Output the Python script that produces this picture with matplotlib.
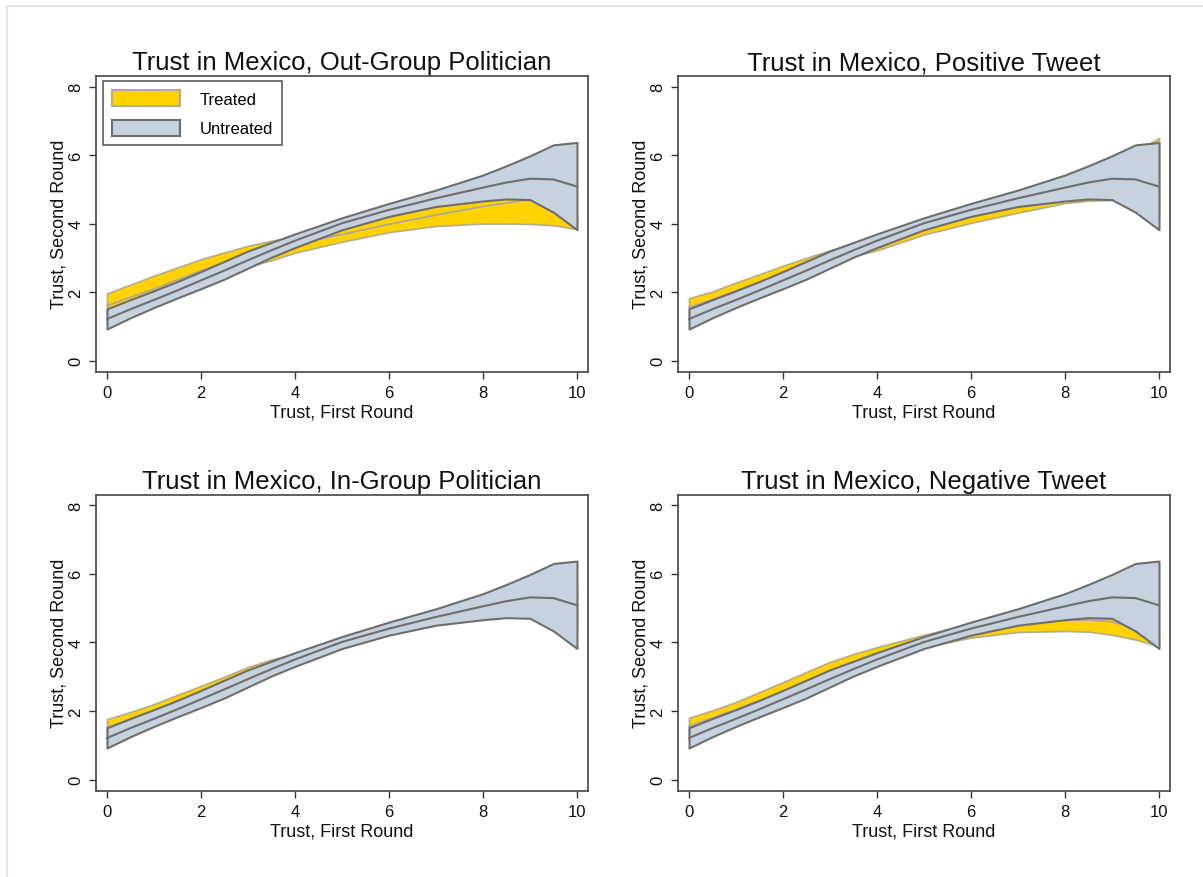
import matplotlib
matplotlib.use("Agg")
import matplotlib.pyplot as plt
from matplotlib.patches import Patch
from matplotlib.lines import Line2D

plt.rcParams['font.family'] = ['Liberation Sans', 'DejaVu Sans']

# x grid (Trust, First Round)
x = [0, 0.5, 1, 1.5, 2, 2.5, 3, 3.5, 4, 5, 6, 7, 8, 8.5, 9, 9.5, 10]

# Untreated (same in all panels)
untr_upper = [1.51, 1.78, 2.04, 2.31, 2.60, 2.90, 3.20, 3.45, 3.70, 4.17, 4.59, 4.98, 5.42, 5.69, 5.98, 6.30, 6.37]
untr_mean  = [1.21, 1.50, 1.77, 2.05, 2.34, 2.63, 2.93, 3.22, 3.50, 4.01, 4.40, 4.74, 5.05, 5.20, 5.31, 5.29, 5.08]
untr_lower = [0.92, 1.25, 1.55, 1.83, 2.10, 2.38, 2.70, 3.02, 3.30, 3.82, 4.21, 4.50, 4.66, 4.72, 4.70, 4.33, 3.82]

# Treated, per panel
titles = ["Trust in Mexico, Out-Group Politician", "Trust in Mexico, Positive Tweet",
          "Trust in Mexico, In-Group Politician", "Trust in Mexico, Negative Tweet"]

out_upper = [1.96, 2.22, 2.48, 2.72, 2.96, 3.16, 3.35, 3.50, 3.62, 4.00, 4.35, 4.65, 4.85, 4.90, 4.90, 4.60, 4.20]
out_mean  = [1.60, 1.85, 2.09, 2.36, 2.62, 2.86, 3.08, 3.25, 3.40, 3.68, 3.98, 4.25, 4.50, 4.60, 4.70, 4.40, 4.00]
out_lower = [1.20, 1.50, 1.75, 2.00, 2.28, 2.52, 2.74, 2.93, 3.15, 3.47, 3.75, 3.93, 4.00, 4.00, 3.99, 3.95, 3.84]

pos_upper = [1.82, 2.02, 2.28, 2.52, 2.77, 3.00, 3.22, 3.42, 3.65, 4.15, 4.55, 4.95, 5.30, 5.50, 5.70, 6.10, 6.50]
pos_mean  = [1.55, 1.78, 2.04, 2.28, 2.53, 2.80, 3.06, 3.26, 3.45, 3.93, 4.29, 4.63, 4.95, 5.08, 5.20, 5.30, 5.40]
pos_lower = [1.30, 1.55, 1.80, 2.05, 2.30, 2.60, 2.90, 3.05, 3.22, 3.68, 4.02, 4.32, 4.60, 4.67, 4.69, 4.50, 4.30]

in_upper = [1.76, 1.97, 2.20, 2.47, 2.73, 3.00, 3.28, 3.50, 3.68, 4.10, 4.50, 4.85, 5.10, 5.20, 5.30, 5.50, 5.60]
in_mean  = [1.52, 1.75, 1.98, 2.24, 2.50, 2.78, 3.05, 3.30, 3.52, 4.00, 4.38, 4.68, 4.89, 4.96, 5.01, 5.05, 5.00]
in_lower = [1.30, 1.55, 1.78, 2.02, 2.28, 2.56, 2.84, 3.10, 3.38, 3.88, 4.23, 4.52, 4.68, 4.73, 4.72, 4.60, 4.40]

neg_upper = [1.80, 2.02, 2.26, 2.55, 2.84, 3.14, 3.43, 3.66, 3.86, 4.22, 4.55, 4.85, 5.00, 5.05, 5.00, 4.70, 4.20]
neg_mean  = [1.55, 1.80, 2.04, 2.30, 2.57, 2.87, 3.15, 3.41, 3.63, 3.99, 4.30, 4.55, 4.65, 4.65, 4.60, 4.40, 4.00]
neg_lower = [1.30, 1.55, 1.80, 2.05, 2.30, 2.58, 2.85, 3.10, 3.38, 3.85, 4.14, 4.30, 4.33, 4.31, 4.22, 4.08, 3.88]

treated = [(out_upper, out_mean, out_lower), (pos_upper, pos_mean, pos_lower),
           (in_upper, in_mean, in_lower), (neg_upper, neg_mean, neg_lower)]

xticks = [0, 2, 4, 6, 8, 10]
yticks = [0, 2, 4, 6, 8]

YELLOW = "#FFD200"
YEDGE = "#B4AD8A"
GRAYF = "#C6D2DD"
GEDGE = "#6E6E6E"
TMEAN = "#A8A8A0"

fig = plt.figure(figsize=(12.03, 8.78), dpi=100)
W, H = 1203, 878
boxes = [(96, 77, 588, 372.5), (678, 77, 1170, 372.5), (96, 495.5, 588, 791.5), (678, 495.5, 1170, 791.5)]

for i, (l, t, r, b) in enumerate(boxes):
    ax = fig.add_axes([l / W, 1 - b / H, (r - l) / W, (b - t) / H])
    up, mn, lo = treated[i]
    ax.fill_between(x, lo, up, facecolor=YELLOW, edgecolor=YEDGE, linewidth=1.2, zorder=2)
    ax.plot(x, mn, color=TMEAN, lw=1.2, zorder=2.1)
    ax.fill_between(x, untr_lower, untr_upper, facecolor=GRAYF, edgecolor=GEDGE, linewidth=1.5, zorder=3)
    ax.plot(x, untr_mean, color=GEDGE, lw=1.5, zorder=3.1)
    ax.set_xlim(-0.234, 10.234)
    ax.set_ylim(-0.32, 8.31)
    ax.set_xticks(xticks)
    ax.set_yticks(yticks)
    ax.tick_params(axis='x', direction='out', length=5, width=1, color='#333333', labelsize=12,
                   labelcolor='#111111', pad=5)
    ax.tick_params(axis='y', direction='out', length=5, width=1, color='#333333', labelsize=12,
                   labelcolor='#111111', pad=4)
    for lab in ax.get_yticklabels():
        lab.set_rotation(90)
        lab.set_va('center')
    for s in ax.spines.values():
        s.set_color('#444444')
        s.set_linewidth(1.2)
    ax.set_title(titles[i], fontsize=18.5, color='#111111', pad=5)
    ax.set_xlabel("Trust, First Round", fontsize=13, color='#111111', labelpad=2)
    ax.set_ylabel("Trust, Second Round", fontsize=13, color='#111111', labelpad=1)
    if i == 0:
        handles = [Patch(facecolor=YELLOW, edgecolor=YEDGE, linewidth=1.5, label="Treated"),
                   Patch(facecolor=GRAYF, edgecolor=GEDGE, linewidth=1.5, label="Untreated")]
        leg = ax.legend(handles=handles, loc='upper left', bbox_to_anchor=(0.014, 0.982), fontsize=12,
                        frameon=True, fancybox=False, edgecolor='#333333', handlelength=4.1,
                        handleheight=1.1, handletextpad=1.15, labelspacing=0.75, borderpad=0.55,
                        borderaxespad=0)
        leg.get_frame().set_linewidth(1.2)

# light page border
fig.add_artist(Line2D([7 / W, 1], [1 - 7 / H, 1 - 7 / H], color='#E6E6E6', lw=1.5))
fig.add_artist(Line2D([7 / W, 7 / W], [0, 1 - 7 / H], color='#E6E6E6', lw=1.5))

fig.savefig("out.png", dpi=100)
